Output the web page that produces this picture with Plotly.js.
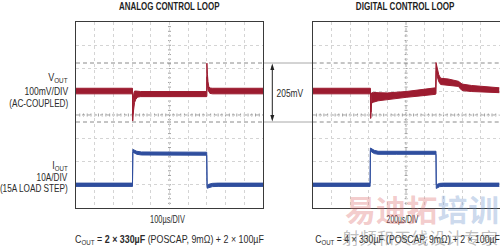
<!DOCTYPE html>
<html>
<head>
<meta charset="utf-8">
<script src="https://cdn.plot.ly/plotly-3.0.1.min.js"></script>
<style>html,body{margin:0;padding:0;background:#fff;}#chart{width:500px;height:247px;}</style>
</head>
<body>
<div id="chart"></div>
<script>
// ---- Data read from the scope captures ----
// Analog control loop (100µs/DIV). Time in µs, VOUT in mV (AC-coupled), IOUT in A.
const analogVoutTime = [0, 302, 303, 304, 306, 309, 313, 320, 330, 345, 699, 700, 701, 703, 706, 710, 716, 730, 1000];
const analogVoutHigh = [12, 12, -60, -100, -40, -10, 0, 0, -2, -2, -2, 120, 110, 70, 40, 20, 13, 12, 12];
const analogVoutLow  = [-12, -12, -129, -125, -95, -70, -50, -35, -26, -24, -24, -20, 60, 25, 5, -5, -10, -12, -12];

const analogIoutTime = [0, 302, 304, 310, 325, 350, 500, 699, 701, 710, 730, 760, 1000];
const analogIoutHigh = [0.7, 0.7, 15.2, 15.0, 14.4, 14.1, 14.0, 14.0, -0.3, 0.2, 0.6, 0.7, 0.7];
const analogIoutLow  = [-0.7, -0.7, 14.0, 13.7, 13.1, 12.8, 12.7, 12.7, -1.5, -1.2, -0.8, -0.7, -0.7];

// Digital control loop (200µs/DIV).
const digitalVoutTime = [0, 618, 620, 623, 630, 650, 700, 800, 1000, 1150, 1316, 1320, 1324, 1335, 1350, 1370, 1450, 1560, 1580, 1600, 1700, 1850, 2000];
const digitalVoutHigh = [12, 12, -40, -90, -8, -6, -7, -8, -2, 5, 14, 123, 115, 95, 70, 55, 52, 42, 35, 30, 24, 18, 14];
const digitalVoutLow  = [-12, -12, -118, -115, -52, -48, -42, -36, -27, -21, -14, -10, 85, 60, 40, 28, 26, 20, 10, 2, -2, -5, -7];

const digitalIoutTime = [0, 615, 618, 630, 660, 700, 900, 1320, 1323, 1335, 1360, 1400, 2000];
const digitalIoutHigh = [0.7, 0.7, 15.8, 15.5, 14.8, 14.4, 14.4, 14.4, 0.0, 0.2, 0.6, 0.7, 0.7];
const digitalIoutLow  = [-0.7, -0.7, 14.6, 14.1, 13.4, 13.1, 13.1, 13.1, -1.6, -1.4, -0.8, -0.7, -0.7];

// Labels
const panelTitles = ['ANALOG CONTROL LOOP', 'DIGITAL CONTROL LOOP'];
const timeBases = ['100µs/DIV', '200µs/DIV'];
const captions = ['C<sub>OUT</sub> = <b>2 × 330µF</b> (POSCAP, 9mΩ) + 2 × 100µF',
                  'C<sub>OUT</sub> = 4 × 330µF (POSCAP, 9mΩ) + 2 × 100µF'];
const voutLabels = ['V<sub>OUT</sub>', '100mV/DIV', '(AC-COUPLED)'];
const ioutLabels = ['I<sub>OUT</sub>', '10A/DIV', '(15A LOAD STEP)'];
const cursorLabel = '205mV';
const watermark = ['易迪拓', '培训', '射频和天线设计专家'];

// ---- Layout helpers (pixel -> paper) ----
const W = 500, H = 247;
const px = x => x / W;
const py = y => 1 - y / H;
const RED = '#9c1c30', BLUE = '#2f4e9e';
const FONT = '"Liberation Sans", Arial, Helvetica, sans-serif';
const TXT = '#2a2a2a';

const panels = [{x0: 76, x1: 263}, {x0: 312.7, x1: 499.5}];
const yTop = 22, yBot = 208;

function band(t, hi, lo, color, xa, ya) {
  return [
    {x: t, y: hi, xaxis: xa, yaxis: ya, mode: 'lines', line: {color: color, width: 1}, hoverinfo: 'skip', showlegend: false},
    {x: t, y: lo, xaxis: xa, yaxis: ya, mode: 'lines', line: {color: color, width: 1}, fill: 'tonexty', fillcolor: color, hoverinfo: 'skip', showlegend: false}
  ];
}

const data = [].concat(
  band(analogVoutTime, analogVoutHigh, analogVoutLow, RED, 'x', 'y'),
  band(analogIoutTime, analogIoutHigh, analogIoutLow, BLUE, 'x', 'y3'),
  band(digitalVoutTime, digitalVoutHigh, digitalVoutLow, RED, 'x2', 'y2'),
  band(digitalIoutTime, digitalIoutHigh, digitalIoutLow, BLUE, 'x2', 'y4')
);

const yDom = [py(yBot), py(yTop)];
function xAxis(p, range, dtick, anchor) {
  return {domain: [px(p.x0), px(p.x1)], anchor: anchor, range: range, dtick: dtick, tick0: 0, showgrid: true,
    gridcolor: '#d4d4d4', griddash: 'dot', gridwidth: 1, zeroline: false, showticklabels: false, ticks: '',
    showline: true, mirror: true, linecolor: '#3a3a3a', linewidth: 1, fixedrange: true};
}
function voutAxis(anchor) {
  return {domain: yDom, anchor: anchor, range: [-503, 297], tick0: -3, dtick: 100, showgrid: true,
    gridcolor: '#d4d4d4', griddash: 'dot', gridwidth: 1, zeroline: false, showticklabels: false, ticks: '',
    showline: true, mirror: true, linecolor: '#3a3a3a', linewidth: 1, fixedrange: true};
}
function ioutAxis(anchor, over) {
  return {domain: yDom, anchor: anchor, overlaying: over, range: [-10, 70], showgrid: false, zeroline: false,
    showticklabels: false, ticks: '', showline: false, fixedrange: true};
}

// ---- Shapes: crosshair, tick marks, cursor lines, arrow ----
const shapes = [];
function pline(x0, y0, x1, y1, color, dash, width) {
  shapes.push({type: 'line', xref: 'paper', yref: 'paper', x0: px(x0), y0: py(y0), x1: px(x1), y1: py(y1),
    line: {color: color, width: width || 1, dash: dash || 'solid'}, layer: 'below'});
}
panels.forEach(p => {
  const cx = (p.x0 + p.x1) / 2, cy = (yTop + yBot) / 2;
  pline(cx, yTop, cx, yBot, '#9a9a9a', 'dot');
  pline(p.x0, cy, p.x1, cy, '#9a9a9a', 'dot');
  for (let k = 1; k < 50; k++) {
    const x = p.x0 + k * (p.x1 - p.x0) / 50;
    pline(x, cy - 1.5, x, cy + 1.5, '#a0a0a0');
  }
  for (let k = 1; k < 40; k++) {
    const y = yTop + k * (yBot - yTop) / 40;
    pline(cx - 1.5, y, cx + 1.5, y, '#a0a0a0');
  }
  pline(p.x0, 63, p.x1, 63, '#8a8a8a', '4px,3px');
  pline(p.x0, 122, p.x1, 122, '#8a8a8a', '4px,3px');
});
// cursor lines across the gap
pline(263, 63, 312.7, 63, '#a8a8a8');
pline(263, 122, 312.7, 122, '#a8a8a8');
// double-headed arrow
const ax = 272.3;
pline(ax, 66, ax, 119, '#222');
shapes.push({type: 'path', xref: 'paper', yref: 'paper', fillcolor: '#222', line: {width: 0},
  path: `M ${px(ax)} ${py(63.5)} L ${px(ax - 2)} ${py(70)} L ${px(ax + 2)} ${py(70)} Z`});
shapes.push({type: 'path', xref: 'paper', yref: 'paper', fillcolor: '#222', line: {width: 0},
  path: `M ${px(ax)} ${py(121.5)} L ${px(ax - 2)} ${py(115)} L ${px(ax + 2)} ${py(115)} Z`});

// ---- Annotations (with target widths, to mimic the condensed typeface) ----
const annotations = [];
const fitW = [];
function txt(text, x, y, width, opts) {
  annotations.push(Object.assign({text: text, x: px(x), y: py(y), xref: 'paper', yref: 'paper', showarrow: false,
    xanchor: 'center', yanchor: 'middle', font: {family: FONT, size: 10, color: TXT}}, opts || {}));
  fitW.push(width);
}
const f10 = {family: FONT, size: 10, color: TXT};
txt('<b>' + panelTitles[0] + '</b>', 169.5, 6, 101, {font: {family: FONT, size: 10, color: '#1e1e1e'}});
txt('<b>' + panelTitles[1] + '</b>', 405.7, 6, 99, {font: {family: FONT, size: 10, color: '#1e1e1e'}});
txt(timeBases[0], 167.5, 219.8, 35, {font: f10});
txt(timeBases[1], 402, 219.8, 32, {font: f10});
txt(captions[0], 72.7, 239.5, 189, {xanchor: 'left', font: f10});
txt(captions[1], 312.7, 239.5, 185, {xanchor: 'left', font: f10});
const vy = [78.5, 91, 103.5], iy = [165.5, 177, 188.5];
const vw = [20, 44, 59], iw = [16, 31, 68];
voutLabels.forEach((s, i) => txt(s, 70, vy[i], vw[i], {xanchor: 'right', font: f10}));
ioutLabels.forEach((s, i) => txt(s, 70, iy[i], iw[i], {xanchor: 'right', font: f10}));
txt(cursorLabel, 289.5, 93, 27, {font: f10});
// watermark
const CJK = '"Noto Sans CJK SC", sans-serif';
txt('<b><span style="color:rgba(222,110,110,0.6)">' + watermark[0] + '</span><span style="color:rgba(110,150,205,0.6)">' + watermark[1] + '</span></b>',
  422, 208, 154, {font: {family: CJK, size: 30, color: 'rgba(222,110,110,0.6)'}});
txt(watermark[2], 420, 237, 156, {font: {family: CJK, size: 16, color: 'rgba(110,110,110,0.45)'}});

const layout = {
  width: W, height: H, autosize: false,
  margin: {l: 0, r: 0, t: 0, b: 0, pad: 0},
  paper_bgcolor: '#ffffff', plot_bgcolor: 'rgba(0,0,0,0)',
  showlegend: false,
  xaxis: xAxis(panels[0], [0, 1000], 100, 'y'),
  yaxis: voutAxis('x'),
  yaxis3: ioutAxis('x', 'y'),
  xaxis2: xAxis(panels[1], [0, 2000], 200, 'y2'),
  yaxis2: voutAxis('x2'),
  yaxis4: ioutAxis('x2', 'y2'),
  shapes: shapes,
  annotations: annotations
};

Plotly.newPlot('chart', data, layout, {staticPlot: true, displayModeBar: false}).then(gd => {
  gd.querySelectorAll('g.annotation').forEach(g => {
    const i = +g.getAttribute('data-index');
    const w = fitW[i];
    const t = g.querySelector('text.annotation-text');
    if (!w || !t) return;
    const b = t.getBBox();
    if (!b.width) return;
    const sx = w / b.width;
    const a = annotations[i].xanchor;
    const axp = a === 'left' ? b.x : (a === 'right' ? b.x + b.width : b.x + b.width / 2);
    const prev = t.getAttribute('transform') || '';
    t.setAttribute('transform', prev + ` translate(${axp * (1 - sx)},0) scale(${sx},1)`);
  });
});
</script>
</body>
</html>
